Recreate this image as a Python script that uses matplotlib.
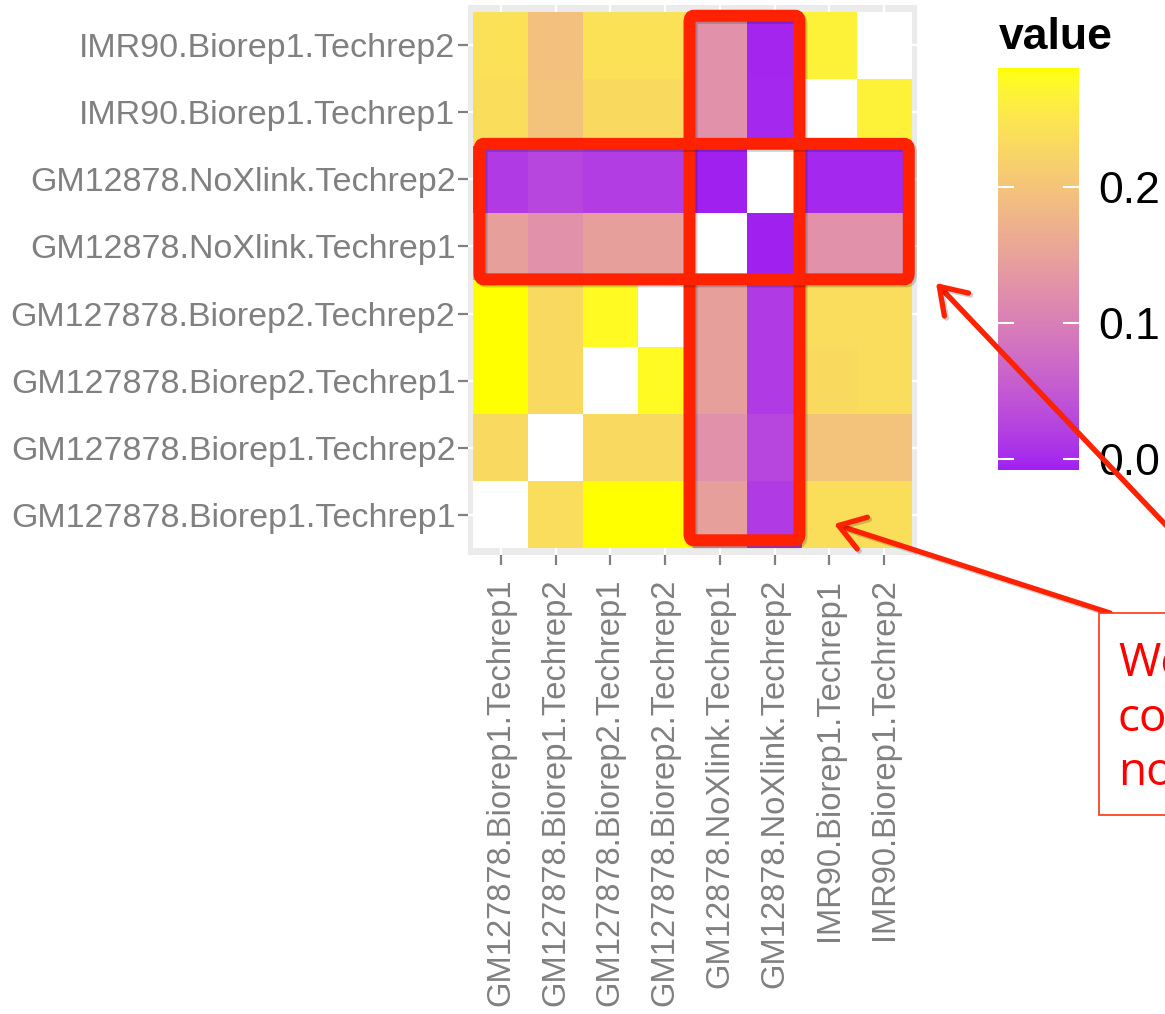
"""Correlation heatmap of Hi-C replicates with hand-drawn red call-outs."""

import matplotlib

matplotlib.use("Agg")
import matplotlib.patheffects as pe
import matplotlib.pyplot as plt
import numpy as np
from matplotlib.colors import ListedColormap, Normalize
from matplotlib.patches import FancyArrowPatch, FancyBboxPatch, Rectangle

W, H = 1165, 1014

SAMPLES = [
    "GM127878.Biorep1.Techrep1",
    "GM127878.Biorep1.Techrep2",
    "GM127878.Biorep2.Techrep1",
    "GM127878.Biorep2.Techrep2",
    "GM12878.NoXlink.Techrep1",
    "GM12878.NoXlink.Techrep2",
    "IMR90.Biorep1.Techrep1",
    "IMR90.Biorep1.Techrep2",
]

NA = np.nan
# rows follow SAMPLES (bottom row first), columns left to right
ROW_B1T1 = [NA, 0.236, 0.288, 0.288, 0.146, 0.016, 0.238, 0.238]
ROW_B1T2 = [0.231, NA, 0.231, 0.231, 0.125, 0.027, 0.197, 0.197]
ROW_B2T1 = [0.288, 0.231, NA, 0.279, 0.146, 0.016, 0.233, 0.236]
ROW_B2T2 = [0.288, 0.231, 0.279, NA, 0.146, 0.016, 0.236, 0.236]
ROW_NOX1 = [0.146, 0.125, 0.146, 0.146, NA, -0.008, 0.125, 0.125]
ROW_NOX2 = [0.016, 0.027, 0.018, 0.018, -0.008, NA, -0.002, -0.002]
ROW_IMR1 = [0.237, 0.197, 0.233, 0.233, 0.125, -0.002, NA, 0.268]
ROW_IMR2 = [0.243, 0.195, 0.243, 0.243, 0.125, -0.004, 0.268, NA]

VMIN, VMAX = -0.008, 0.2875
CBAR_TICKS = [0.0, 0.1, 0.2]
NOTE_LINES = ["We", "co", "no"]

LOW, HIGH = "#A020F0", "#FFFF00"
RED = "#FF2200"
GREY = "#808080"
PANEL = "#EBEBEB"


def _srgb_to_lab(rgb):
    c = np.where(rgb <= 0.04045, rgb / 12.92, ((rgb + 0.055) / 1.055) ** 2.4)
    m = np.array([[0.4124, 0.3576, 0.1805], [0.2126, 0.7152, 0.0722], [0.0193, 0.1192, 0.9505]])
    xyz = m @ c / np.array([0.95047, 1.0, 1.08883])
    f = np.where(xyz > 0.008856, np.cbrt(xyz), 7.787 * xyz + 16 / 116)
    return np.array([116 * f[1] - 16, 500 * (f[0] - f[1]), 200 * (f[1] - f[2])])


def _lab_to_srgb(lab):
    L, a, b = lab
    fy_ = (L + 16) / 116
    f = np.array([fy_ + a / 500, fy_, fy_ - b / 200])
    xyz = np.where(f > 0.2069, f ** 3, (f - 16 / 116) / 7.787) * np.array([0.95047, 1.0, 1.08883])
    m = np.array([[3.2406, -1.5372, -0.4986], [-0.9689, 1.8758, 0.0415], [0.0557, -0.2040, 1.0570]])
    c = m @ xyz
    c = np.where(c <= 0.0031308, 12.92 * c, 1.055 * np.clip(c, 0, None) ** (1 / 2.4) - 0.055)
    return np.clip(c, 0, 1)


def lab_gradient(low, high, n=256):
    lo = _srgb_to_lab(np.array(matplotlib.colors.to_rgb(low)))
    hi = _srgb_to_lab(np.array(matplotlib.colors.to_rgb(high)))
    cols = [_lab_to_srgb(lo + (hi - lo) * t) for t in np.linspace(0, 1, n)]
    cmap = ListedColormap(cols)
    cmap.set_bad("white")
    return cmap


def fx(x):
    return x / W


def fy(y):
    return 1 - y / H


def main():
    matrix = np.array([ROW_B1T1, ROW_B1T2, ROW_B2T1, ROW_B2T2,
                       ROW_NOX1, ROW_NOX2, ROW_IMR1, ROW_IMR2])
    cmap = lab_gradient(LOW, HIGH)
    norm = Normalize(VMIN, VMAX)
    n = len(SAMPLES)

    plt.rcParams["font.family"] = ["Liberation Sans", "DejaVu Sans"]
    fig = plt.figure(figsize=(W / 100, H / 100), dpi=100, facecolor="white")
    ax = fig.add_axes([fx(468), fy(555), fx(917) - fx(468), fy(5) - fy(555)])
    ax.set_facecolor(PANEL)
    for s in ax.spines.values():
        s.set_visible(False)

    edges = np.arange(n + 1) - 0.5
    mesh = ax.pcolormesh(edges, edges, np.ma.masked_invalid(matrix), cmap=cmap, norm=norm,
                         zorder=2)
    ax.set_xlim(-0.6, n - 0.4)
    ax.set_ylim(-0.6, n - 0.4)
    ax.set_xticks(range(n))
    ax.set_yticks(range(n))
    ax.set_xticklabels(SAMPLES, rotation=90, fontsize=23.6, color=GREY)
    ax.set_yticklabels(SAMPLES, fontsize=24.5, color=GREY)
    ax.tick_params(axis="x", length=7, width=1.6, color=GREY, pad=10)
    ax.tick_params(axis="y", length=7, width=1.6, color=GREY, pad=2)
    ax.grid(True, color="white", linewidth=1.6, zorder=1)
    ax.set_axisbelow(True)

    # colour bar
    cax = fig.add_axes([fx(998), fy(470), fx(1079) - fx(998), fy(68) - fy(470)])
    cbar = fig.colorbar(mesh, cax=cax)
    cbar.outline.set_visible(False)
    cbar.set_ticks(CBAR_TICKS)
    cbar.set_ticklabels([f"{t:.1f}" for t in CBAR_TICKS])
    cax.tick_params(length=0, labelsize=32, pad=14, colors="black")
    for t in CBAR_TICKS:
        cax.plot([0, 0.19], [t, t], color="white", lw=1.5, transform=cax.get_yaxis_transform())
        cax.plot([0.81, 1], [t, t], color="white", lw=1.5, transform=cax.get_yaxis_transform())
    fig.text(fx(999), fy(49), "value", fontsize=32, fontweight="bold", ha="left", va="baseline")

    line_shadow = [pe.SimpleLineShadow(offset=(1.5, -1.5), alpha=0.18), pe.Normal()]

    # red call-out boxes around the NoXlink row and column
    for (x0, x1, y0, y1) in [(3.445, 5.454, -0.38, 7.44), (-0.39, 7.45, 3.51, 5.53)]:
        box = FancyBboxPatch((x0, y0), x1 - x0, y1 - y0,
                             boxstyle="round,pad=0,rounding_size=0.08",
                             fill=False, edgecolor=RED, linewidth=8.6, clip_on=False,
                             zorder=5, mutation_aspect=1.2)
        box.set_path_effects(line_shadow)
        ax.add_patch(box)

    # arrows pointing from the note box
    for tail, head in [((1180, 540), (936, 283)), ((1110, 613), (834, 524))]:
        arr = FancyArrowPatch((fx(tail[0]), fy(tail[1])), (fx(head[0]), fy(head[1])),
                              transform=fig.transFigure,
                              arrowstyle="->,head_length=1.2,head_width=0.8",
                              mutation_scale=15, color=RED, linewidth=3.8,
                              shrinkA=0, shrinkB=0, zorder=6, capstyle="round",
                              joinstyle="round")
        arr.set_path_effects(line_shadow)
        fig.add_artist(arr)

    note = Rectangle((fx(1099), fy(815)), fx(1200) - fx(1099), fy(613) - fy(815),
                     transform=fig.transFigure, fill=True, facecolor="white",
                     edgecolor="#FF3311", linewidth=1.2, zorder=7)
    fig.add_artist(note)
    for text, base in zip(NOTE_LINES, [676, 731, 785]):
        fig.text(fx(1118), fy(base), text, color="#FF0000", fontsize=33,
                 family=["Open Sans", "DejaVu Sans"], ha="left", va="baseline", zorder=8)

    fig.savefig("out.png", dpi=100, facecolor="white")
    plt.close(fig)


if __name__ == "__main__":
    main()
